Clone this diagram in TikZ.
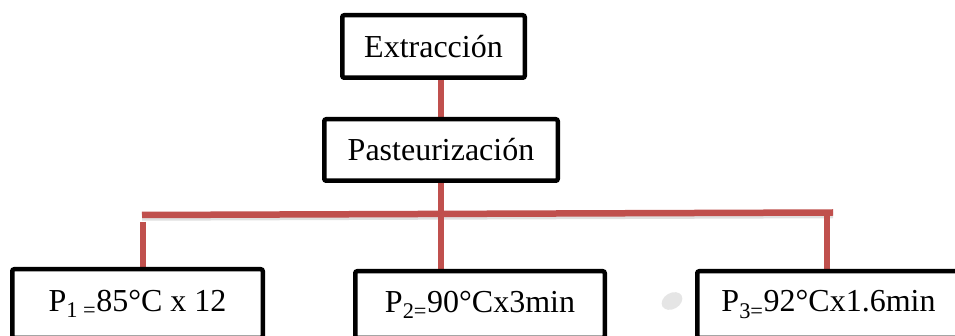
\documentclass[tikz,border=0pt]{standalone}
\usepackage{fontspec}
\setmainfont{Liberation Serif}
\usetikzlibrary{backgrounds}
\definecolor{linkred}{RGB}{192,80,77}
\tikzset{
  box/.style={draw=black, line width=4.5pt, rounded corners=2pt, fill=white,
    font=\fontsize{32}{37}\selectfont, inner sep=0pt, anchor=center},
  link/.style={draw=linkred, line width=6.5pt},
  linkshadow/.style={draw=black!12, line width=6.5pt}
}
\begin{document}
\begin{tikzpicture}[x=1pt,y=-1pt]
\useasboundingbox (0,0) rectangle (955,336);
\node[box, minimum width=182.5pt, minimum height=62.5pt] (ext) at (433.5,46.5) {Extracción};
\node[box, minimum width=233.5pt, minimum height=61.5pt] (past) at (441,150) {Pasteurización};
\node[box, minimum width=250.5pt, minimum height=68.5pt] (p1) at (137.5,303.5) {P\textsubscript{1 =}85°C x 12};
\node[box, minimum width=249.5pt, minimum height=66.5pt] (p2) at (480,304.5) {P\textsubscript{2=}90°Cx3min};
\node[box, minimum width=262.5pt, minimum height=66.5pt] (p3) at (828.5,304.5) {P\textsubscript{3=}92°Cx1.6min};
\coordinate (hl) at (142,215);
\coordinate (hr) at (833,212.5);
\coordinate (vr) at (827,212.5);
\coordinate (vl) at (143,222);
\begin{scope}[on background layer]
  \fill[white] (0,0) rectangle (955,336);
  \fill[black!10] (672,301) ellipse [x radius=11pt, y radius=8pt, rotate=30];
  \draw[linkshadow] ([yshift=-2.5pt]hl) -- ([yshift=-2.5pt]hr);
  \draw[link] (ext.south -| past.north) -- (past.north);
  \draw[link] (past.south) -- (past.south |- p2.north);
  \draw[link] (hl) -- (hr);
  \draw[link] (vl) -- (vl |- p1.north);
  \draw[link] (vr) -- (vr |- p3.north);
\end{scope}
\end{tikzpicture}
\end{document}
